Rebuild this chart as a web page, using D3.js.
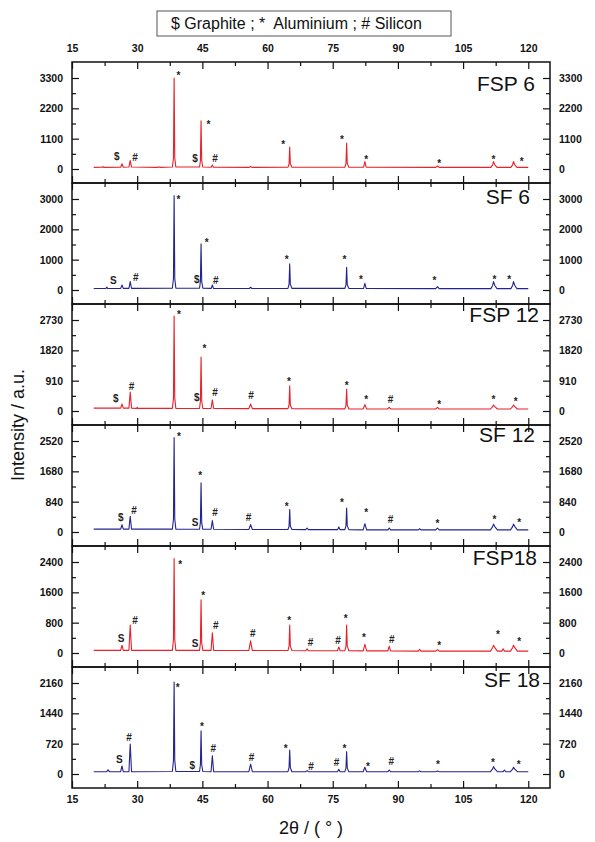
<!DOCTYPE html>
<html>
<head>
<meta charset="utf-8">
<script src="https://cdn.jsdelivr.net/npm/d3@7"></script>
<style>
  body { margin: 0; background: #fff; }
  text { font-family: "Liberation Sans", Arial, sans-serif; }
  .axis text { font-size: 10.5px; font-weight: bold; fill: #111; }
  .axis line { stroke: #111; stroke-width: 1.2; }
  .axis path { display: none; }
  .mark { font-size: 10px; font-weight: bold; fill: #222; }
</style>
</head>
<body>
<div id="chart"></div>
<script>
// Data
// ==============================
var xTicks = [15, 30, 45, 60, 75, 90, 105, 120];
var xMinorTicks = [22.5, 37.5, 52.5, 67.5, 82.5, 97.5, 112.5];

var panelNames = ["FSP 6", "SF 6", "FSP 12", "SF 12", "FSP18", "SF 18"];

var yTicks = [
    [0, 1100, 2200, 3300],
    [0, 1000, 2000, 3000],
    [0, 910, 1820, 2730],
    [0, 840, 1680, 2520],
    [0, 800, 1600, 2400],
    [0, 720, 1440, 2160]
];

var legendText = "$ Graphite ; *  Aluminium ; # Silicon";

// [2theta, intensity]
var fsp6 = [[20, 60], [22, 62], [22.1, 90], [22.3, 60], [26.2, 65], [26.5, 190], [26.8, 65], [28.1, 70], [28.4, 310], [28.7, 70],
    [34.8, 60], [35, 80], [35.2, 60], [38.1, 70], [38.35, 400], [38.5, 3300], [38.65, 400], [38.9, 70],
    [44.35, 70], [44.55, 300], [44.7, 1750], [44.85, 300], [45.1, 70], [47.05, 65], [47.3, 150], [47.55, 65],
    [55.8, 60], [56.1, 90], [56.4, 60], [64.7, 65], [64.95, 180], [65.1, 800], [65.25, 180], [65.6, 65],
    [77.8, 65], [78.05, 200], [78.2, 940], [78.35, 200], [78.7, 65], [82.1, 65], [82.4, 270], [82.7, 65],
    [98.7, 60], [99.1, 110], [99.5, 60], [111.4, 60], [111.8, 150], [112.0, 270], [112.3, 150], [112.8, 60],
    [116.0, 60], [116.4, 150], [116.6, 270], [116.9, 150], [117.4, 60], [120, 60]];

var sf6 = [[20, 50], [22.8, 52], [23, 100], [23.2, 50], [26.2, 55], [26.5, 165], [26.8, 55], [28.1, 55], [28.4, 275], [28.7, 55],
    [38.1, 60], [38.35, 380], [38.5, 3110], [38.65, 380], [38.9, 60], [44.35, 60], [44.55, 280], [44.7, 1520], [44.85, 280], [45.1, 60],
    [47.05, 55], [47.3, 165], [47.55, 55], [55.8, 50], [56.1, 90], [56.4, 50],
    [64.7, 55], [64.95, 190], [65.1, 860], [65.25, 190], [65.6, 55], [77.8, 55], [78.05, 170], [78.2, 750], [78.35, 170], [78.7, 55],
    [82.1, 50], [82.4, 220], [82.7, 50], [98.7, 45], [99.1, 110], [99.5, 45],
    [111.4, 45], [111.8, 150], [112.0, 275], [112.3, 150], [112.8, 45], [116.0, 45], [116.4, 150], [116.6, 275], [116.9, 150], [117.4, 45], [120, 45]];

var fsp12 = [[20, 85], [26.2, 85], [26.5, 210], [26.8, 85], [28.1, 85], [28.4, 565], [28.7, 85], [29.9, 80], [30.0, 110], [30.1, 80],
    [38.1, 80], [38.35, 380], [38.5, 2850], [38.65, 380], [38.9, 80], [44.35, 75], [44.55, 300], [44.7, 1620], [44.85, 300], [45.1, 75],
    [47.0, 75], [47.3, 335], [47.6, 75], [55.7, 70], [56.1, 210], [56.5, 70],
    [64.7, 70], [64.95, 180], [65.1, 755], [65.25, 180], [65.6, 70], [77.8, 65], [78.05, 170], [78.2, 655], [78.35, 170], [78.7, 65],
    [82.0, 60], [82.4, 190], [82.8, 60], [87.6, 60], [88.0, 110], [88.4, 60], [98.7, 60], [99.1, 110], [99.5, 60],
    [111.3, 60], [111.8, 130], [112.0, 180], [112.3, 130], [112.9, 60], [115.9, 60], [116.4, 130], [116.6, 180], [116.9, 130], [117.5, 60], [120, 60]];

var sf12 = [[20, 80], [26.2, 80], [26.5, 200], [26.8, 80], [28.1, 80], [28.4, 435], [28.7, 80],
    [38.1, 80], [38.35, 360], [38.5, 2615], [38.65, 360], [38.9, 80], [44.35, 75], [44.55, 260], [44.7, 1365], [44.85, 260], [45.1, 75],
    [47.0, 75], [47.3, 315], [47.6, 75], [55.7, 70], [56.1, 205], [56.5, 70],
    [64.7, 70], [64.95, 160], [65.1, 620], [65.25, 160], [65.6, 70], [68.8, 65], [69.1, 110], [69.4, 65], [76.1, 65], [76.4, 140], [76.7, 65],
    [77.8, 65], [78.05, 170], [78.2, 665], [78.35, 170], [78.7, 65],
    [82.0, 60], [82.4, 230], [82.8, 60], [87.7, 60], [88.0, 110], [88.3, 60], [94.7, 60], [95.0, 90], [95.3, 60], [98.7, 60], [99.1, 110], [99.5, 60],
    [111.3, 60], [111.8, 150], [112.0, 220], [112.3, 150], [112.9, 60], [115.9, 60], [116.4, 150], [116.6, 220], [116.9, 150], [117.5, 60], [120, 60]];

var fsp18 = [[20, 70], [26.2, 70], [26.5, 205], [26.8, 70], [28.1, 70], [28.4, 735], [28.7, 70],
    [38.1, 70], [38.35, 350], [38.5, 2490], [38.65, 350], [38.9, 70], [44.35, 70], [44.55, 270], [44.7, 1400], [44.85, 270], [45.1, 70],
    [47.0, 70], [47.3, 530], [47.6, 70], [55.7, 65], [56.1, 320], [56.5, 65],
    [64.7, 65], [64.95, 180], [65.1, 735], [65.25, 180], [65.6, 65], [68.8, 60], [69.1, 110], [69.4, 60], [76.1, 60], [76.4, 160], [76.7, 60],
    [77.8, 60], [78.05, 180], [78.2, 735], [78.35, 180], [78.7, 60],
    [82.0, 55], [82.4, 230], [82.8, 55], [87.7, 55], [88.0, 180], [88.3, 55], [94.7, 50], [95.0, 100], [95.3, 50], [98.7, 50], [99.1, 90], [99.5, 50],
    [111.3, 50], [111.8, 140], [112.0, 205], [112.3, 140], [112.9, 50], [113.9, 50], [114.2, 110], [114.5, 50],
    [115.9, 50], [116.4, 140], [116.6, 205], [116.9, 140], [117.5, 50], [120, 50]];

var sf18 = [[20, 55], [23.0, 55], [23.3, 100], [23.6, 55], [26.2, 55], [26.5, 190], [26.8, 55], [28.1, 55], [28.4, 710], [28.7, 55],
    [38.1, 60], [38.35, 320], [38.5, 2185], [38.65, 320], [38.9, 60], [44.35, 60], [44.55, 220], [44.7, 1025], [44.85, 220], [45.1, 60],
    [47.0, 55], [47.3, 435], [47.6, 55], [55.7, 55], [56.1, 235], [56.5, 55],
    [64.7, 55], [64.95, 150], [65.1, 570], [65.25, 150], [65.6, 55], [68.8, 55], [69.1, 80], [69.4, 55], [76.1, 55], [76.4, 110], [76.7, 55],
    [77.8, 55], [78.05, 140], [78.2, 530], [78.35, 140], [78.7, 55],
    [82.0, 55], [82.4, 160], [82.8, 55], [87.7, 55], [88.0, 95], [88.3, 55], [94.7, 55], [95.0, 75], [95.3, 55], [98.7, 55], [99.1, 70], [99.5, 55],
    [111.3, 55], [111.8, 120], [112.0, 175], [112.3, 120], [112.9, 55], [114.2, 55], [114.5, 95], [114.8, 55],
    [115.9, 55], [116.4, 115], [116.6, 160], [116.9, 115], [117.5, 55], [120, 55]];

// peak labels: [2theta, intensity, symbol]
var fsp6Marks = [[25.3, 450, "$"], [29.5, 430, "#"], [39.5, 3480, "*"], [43.3, 390, "$"], [46.4, 1700, "*"], [47.9, 390, "#"],
    [63.6, 985, "*"], [77.1, 1160, "*"], [82.7, 450, "*"], [99.5, 305, "*"], [112.0, 430, "*"], [118.5, 355, "*"]];
var sf6Marks = [[24.5, 330, "S"], [29.7, 420, "#"], [39.5, 3070, "*"], [43.7, 355, "$"], [46.0, 1655, "*"], [48.1, 330, "#"],
    [64.4, 1080, "*"], [77.7, 1100, "*"], [81.5, 440, "*"], [98.4, 385, "*"], [112.2, 420, "*"], [115.6, 420, "*"]];
var fsp12Marks = [[25.1, 385, "$"], [28.7, 735, "#"], [39.6, 2985, "*"], [43.7, 415, "$"], [45.5, 1945, "*"], [47.9, 555, "#"],
    [56.2, 455, "#"], [64.9, 960, "*"], [78.2, 840, "*"], [82.7, 415, "*"], [88.3, 335, "#"], [99.5, 280, "*"], [112.0, 415, "*"], [117.1, 365, "*"]];
var sf12Marks = [[26.2, 415, "$"], [29.3, 600, "#"], [39.6, 2705, "*"], [43.3, 265, "S"], [44.5, 1640, "*"], [47.9, 530, "#"],
    [55.6, 405, "#"], [64.4, 785, "*"], [77.1, 880, "*"], [82.7, 620, "*"], [88.3, 340, "#"], [99.1, 295, "*"], [112.2, 405, "*"], [117.9, 340, "*"]];
var fsp18Marks = [[26.3, 380, "S"], [29.5, 870, "#"], [39.9, 2390, "*"], [43.3, 250, "S"], [45.2, 1575, "*"], [48.1, 735, "#"],
    [56.6, 515, "#"], [65.0, 915, "*"], [69.9, 290, "#"], [76.2, 320, "#"], [78.0, 985, "*"], [82.2, 470, "*"], [88.6, 355, "#"],
    [99.5, 275, "*"], [113.0, 560, "*"], [117.9, 365, "*"]];
var sf18Marks = [[25.9, 345, "S"], [28.1, 865, "#"], [39.3, 2105, "*"], [42.7, 215, "$"], [44.9, 1175, "*"], [47.5, 605, "#"],
    [56.3, 395, "#"], [64.2, 660, "*"], [70.0, 190, "#"], [75.9, 270, "#"], [77.7, 660, "*"], [83.1, 230, "*"], [88.5, 290, "#"],
    [99.2, 290, "*"], [111.9, 330, "*"], [117.8, 290, "*"]];

var series = [fsp6, sf6, fsp12, sf12, fsp18, sf18];
var marks = [fsp6Marks, sf6Marks, fsp12Marks, sf12Marks, fsp18Marks, sf18Marks];

// Layout
// ==============================
var svgWidth = 595;
var svgHeight = 842;
var frameLeft = 72, frameRight = 550;
var firstTop = 62, panelHeight = 121;
var lineColors = ["#e8212a", "#24248f", "#e8212a", "#24248f", "#e8212a", "#24248f"];
var nameOffsets = [[535, 29], [530, 21], [539, 18], [535, 17], [537, 19], [540, 20]];

var svg = d3.select("#chart")
    .append("svg")
    .attr("width", svgWidth)
    .attr("height", svgHeight);

var xScale = d3.scaleLinear()
    .domain([15, 125])
    .range([frameLeft, frameRight]);

series.forEach(function (data, i) {
    var top = firstTop + i * panelHeight;
    var bottom = top + panelHeight;
    var yMax = yTicks[i][yTicks[i].length - 1];
    var yScale = d3.scaleLinear()
        .domain([0, yMax])
        .range([top + 107, top + 16]);
    var yMinor = yTicks[i].slice(1).map(function (t) { return t - yTicks[i][1] / 2; });

    var panel = svg.append("g");

    // x ticks (inside), labels only on first top and last bottom
    panel.append("g")
        .attr("class", "axis")
        .attr("transform", `translate(0, ${top})`)
        .call(d3.axisTop(xScale).tickValues(xTicks).tickSize(-7).tickPadding(10)
            .tickFormat(i === 0 ? d3.format("d") : ""));
    panel.append("g")
        .attr("class", "axis")
        .attr("transform", `translate(0, ${top})`)
        .call(d3.axisTop(xScale).tickValues(xMinorTicks).tickSize(-4).tickFormat(""));
    panel.append("g")
        .attr("class", "axis")
        .attr("transform", `translate(0, ${bottom})`)
        .call(d3.axisBottom(xScale).tickValues(xTicks).tickSize(-7).tickPadding(8)
            .tickFormat(i === series.length - 1 ? d3.format("d") : ""));
    panel.append("g")
        .attr("class", "axis")
        .attr("transform", `translate(0, ${bottom})`)
        .call(d3.axisBottom(xScale).tickValues(xMinorTicks).tickSize(-4).tickFormat(""));

    // y ticks on both sides
    panel.append("g")
        .attr("class", "axis")
        .attr("transform", `translate(${frameLeft}, 0)`)
        .call(d3.axisLeft(yScale).tickValues(yTicks[i]).tickSize(-7).tickPadding(9).tickFormat(d3.format("d")));
    panel.append("g")
        .attr("class", "axis")
        .attr("transform", `translate(${frameLeft}, 0)`)
        .call(d3.axisLeft(yScale).tickValues(yMinor).tickSize(-4).tickFormat(""));
    panel.append("g")
        .attr("class", "axis")
        .attr("transform", `translate(${frameRight}, 0)`)
        .call(d3.axisRight(yScale).tickValues(yTicks[i]).tickSize(-7).tickPadding(9).tickFormat(d3.format("d")));
    panel.append("g")
        .attr("class", "axis")
        .attr("transform", `translate(${frameRight}, 0)`)
        .call(d3.axisRight(yScale).tickValues(yMinor).tickSize(-4).tickFormat(""));

    // pattern line
    var line = d3.line()
        .x(d => xScale(d[0]))
        .y(d => yScale(d[1]));
    panel.append("path")
        .datum(data)
        .attr("d", line)
        .attr("fill", "none")
        .attr("stroke", lineColors[i])
        .attr("stroke-width", 1.1)
        .attr("stroke-linejoin", "round");

    // phase symbols
    panel.selectAll(".mark")
        .data(marks[i])
        .enter()
        .append("text")
        .attr("class", "mark")
        .attr("x", d => xScale(d[0]))
        .attr("y", d => yScale(d[1]))
        .attr("dy", d => d[2] === "*" ? "0.6em" : "0.36em")
        .attr("text-anchor", "middle")
        .text(d => d[2]);

    // sample name
    panel.append("text")
        .attr("x", nameOffsets[i][0])
        .attr("y", top + nameOffsets[i][1])
        .attr("text-anchor", "end")
        .attr("font-size", "21px")
        .attr("fill", "#111")
        .text(panelNames[i]);

    // frame
    panel.append("rect")
        .attr("x", frameLeft)
        .attr("y", top)
        .attr("width", frameRight - frameLeft)
        .attr("height", panelHeight)
        .attr("fill", "none")
        .attr("stroke", "#111")
        .attr("stroke-width", 1.5);
});

// legend box
svg.append("rect")
    .attr("x", 157)
    .attr("y", 11)
    .attr("width", 294)
    .attr("height", 25)
    .attr("fill", "#fff")
    .attr("stroke", "#555")
    .attr("stroke-width", 1);
svg.append("text")
    .attr("x", 171)
    .attr("y", 29)
    .attr("font-size", "16px")
    .attr("fill", "#111")
    .style("white-space", "pre")
    .text(legendText);

// axis titles
svg.append("text")
    .attr("transform", "rotate(-90)")
    .attr("x", -425)
    .attr("y", 24)
    .attr("text-anchor", "middle")
    .attr("font-size", "18px")
    .attr("fill", "#111")
    .text("Intensity / a.u.");

svg.append("text")
    .attr("x", 311)
    .attr("y", 834)
    .attr("text-anchor", "middle")
    .attr("font-size", "18px")
    .attr("fill", "#111")
    .text("2θ / ( ° )");
</script>
</body>
</html>
